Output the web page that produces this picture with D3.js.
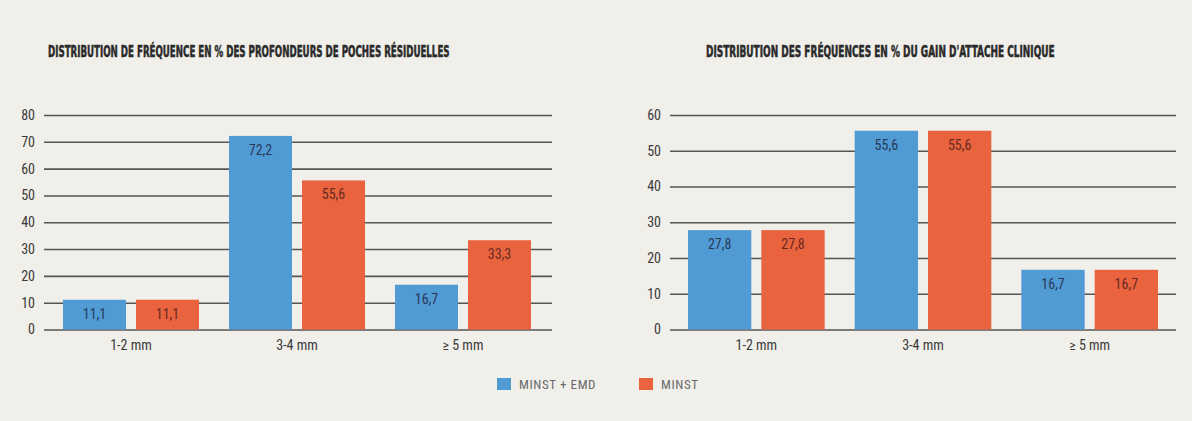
<!DOCTYPE html>
<html>
<head>
<meta charset="utf-8">
<script src="https://cdn.jsdelivr.net/npm/d3@7"></script>
<style>
  body { margin: 0; background: #f1efea; }
  svg { display: block; }
  .tick text { font-family: "Liberation Sans Narrow", "Roboto Condensed", Roboto, sans-serif; fill: #3a3a3a; }
  .title { font-family: "DejaVu Sans Condensed", "DejaVu Sans", sans-serif; font-weight: bold; fill: #2a2a2a; stroke: #2a2a2a; stroke-width: 0.5; }
</style>
</head>
<body>
<svg id="chart" width="1192" height="421"></svg>
<script>
// data
const categories = ["1-2 mm", "3-4 mm", "≥ 5 mm"]
const series = ["MINST + EMD", "MINST"]
const colors = ["#519bd5", "#e9633f"]
const labelColors = ["#27395a", "#6a2a1e"]

const pocketEmd = [11.1, 72.2, 16.7]
const pocketMinst = [11.1, 55.6, 33.3]
const pocketTicks = [0, 10, 20, 30, 40, 50, 60, 70, 80]
const pocketTitle = "DISTRIBUTION DE FRÉQUENCE EN % DES PROFONDEURS DE POCHES RÉSIDUELLES"

const gainEmd = [27.8, 55.6, 16.7]
const gainMinst = [27.8, 55.6, 16.7]
const gainTicks = [0, 10, 20, 30, 40, 50, 60]
const gainTitle = "DISTRIBUTION DES FRÉQUENCES EN % DU GAIN D'ATTACHE CLINIQUE"

const svg = d3.select("#chart")
const fmt = v => d3.format(".1f")(v).replace(".", ",")

function drawChart(opts) {
    const g = svg.append("g")

    // title, squeezed horizontally to the width it has in the picture
    const t = g.append("text")
        .attr("class", "title")
        .attr("font-size", 15)
        .text(opts.title)
    const natural = t.node().getComputedTextLength()
    t.attr("transform", `translate(${opts.titleX},57) scale(${opts.titleW / natural},1)`)

    const y = d3.scaleLinear()
        .domain([0, d3.max(opts.ticks)])
        .range([329.5, 115])

    // grid + y labels
    const yAxis = g.append("g")
        .attr("transform", `translate(${opts.gridLeft},0)`)
        .call(d3.axisLeft(y).tickValues(opts.ticks).tickFormat(d3.format("d"))
            .tickSizeInner(-(opts.gridRight - opts.gridLeft)).tickSizeOuter(0).tickPadding(9))
    yAxis.select(".domain").remove()
    yAxis.selectAll(".tick line").attr("stroke", "#555").attr("stroke-width", 1.6)
    yAxis.selectAll(".tick text").attr("font-size", 14)

    const x0 = d3.scaleBand()
        .domain(categories)
        .range([opts.bandLeft, opts.bandRight])
    const x1 = d3.scaleBand()
        .domain(series)
        .range([15, x0.bandwidth() - 15])
        .paddingInner(0.137)

    // x labels
    const xAxis = g.append("g")
        .attr("transform", `translate(0,${y(0)})`)
        .call(d3.axisBottom(x0).tickSize(0).tickPadding(11))
    xAxis.select(".domain").remove()
    xAxis.selectAll(".tick text").attr("font-size", 14)

    const rows = categories.map((c, i) => ({cat: c, vals: [opts.a[i], opts.b[i]]}))

    const groups = g.selectAll(".grp")
        .data(rows)
        .enter().append("g")
        .attr("transform", d => `translate(${x0(d.cat)},0)`)

    const bars = groups.selectAll("g")
        .data(d => d.vals.map((v, j) => ({s: series[j], v: v, j: j})))
        .enter().append("g")

    bars.append("rect")
        .attr("x", d => x1(d.s))
        .attr("y", d => y(d.v))
        .attr("width", x1.bandwidth())
        .attr("height", d => y(0) - y(d.v))
        .attr("fill", d => colors[d.j])

    bars.append("text")
        .attr("x", d => x1(d.s) + x1.bandwidth() / 2)
        .attr("y", d => y(d.v) + 19)
        .attr("text-anchor", "middle")
        .attr("font-family", "'Liberation Sans Narrow', 'Roboto Condensed', Roboto, sans-serif")
        .attr("font-size", 14)
        .attr("fill", d => labelColors[d.j])
        .text(d => fmt(d.v))
}

drawChart({title: pocketTitle, titleX: 48, titleW: 402, ticks: pocketTicks,
    gridLeft: 44, gridRight: 552, bandLeft: 48, bandRight: 546, a: pocketEmd, b: pocketMinst})
drawChart({title: gainTitle, titleX: 706, titleW: 349, ticks: gainTicks,
    gridLeft: 670, gridRight: 1176, bandLeft: 673, bandRight: 1173, a: gainEmd, b: gainMinst})

// legend
const legendX = [497, 639]
const legend = svg.append("g")
    .selectAll("g")
    .data(series)
    .enter().append("g")
    .attr("transform", (d, i) => `translate(${legendX[i]},378)`)
legend.append("rect")
    .attr("width", 14)
    .attr("height", 12)
    .attr("fill", (d, i) => colors[i])
legend.append("text")
    .attr("x", 22)
    .attr("y", 11)
    .attr("font-family", "'Liberation Sans Narrow', 'Roboto Condensed', Roboto, sans-serif")
    .attr("font-size", 13)
    .attr("letter-spacing", 0.6)
    .attr("fill", "#6a6a6a")
    .text(d => d)
</script>
</body>
</html>
